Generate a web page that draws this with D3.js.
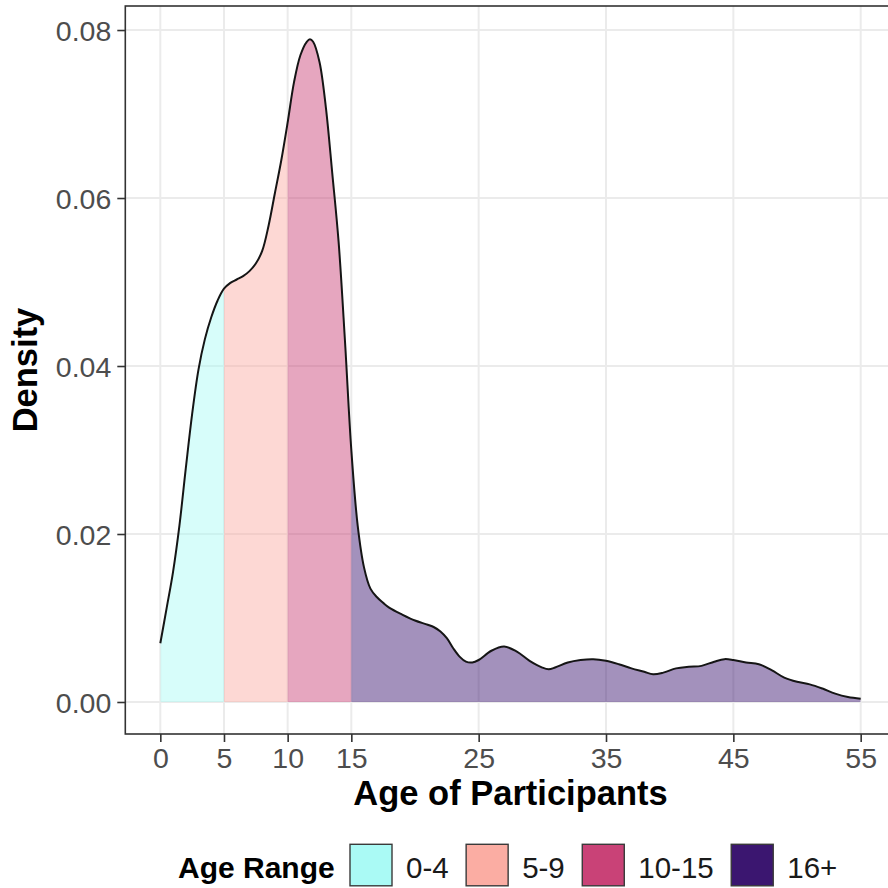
<!DOCTYPE html>
<html><head><meta charset="utf-8">
<script src="https://cdn.jsdelivr.net/npm/d3@7"></script>
<style>
body{margin:0;background:#fff;}
svg{display:block;}
text{font-family:"Liberation Sans",Arial,Helvetica,sans-serif;}
</style>
</head><body>
<svg id="chart" width="888" height="888"></svg>
<script>
// ---- data ----
const ages = [0,0.5,1,1.5,2,2.5,3,3.5,4,4.5,5,5.5,6,6.5,7,7.5,8,8.5,9,9.5,10,10.5,11,11.5,11.75,12,12.5,13,13.5,14,14.5,15,15.5,16,16.5,17,17.5,18,19,20,21,21.5,22,22.5,23,23.5,24,24.5,25,26,27,28,29,30,30.5,31,32,33,34,35,36,37,38,38.7,39.5,40.5,41.5,42.5,43.5,44.3,45,46,47,48,49,50,51,52,53,54,55];
const densities = [0.0070,0.0112,0.0155,0.0210,0.0278,0.0343,0.0396,0.0432,0.0458,0.0478,0.0492,0.0499,0.0503,0.0507,0.0513,0.0522,0.0537,0.0567,0.0606,0.0645,0.0690,0.0738,0.0770,0.0786,0.0789,0.0786,0.0762,0.0708,0.0630,0.0548,0.0430,0.0300,0.0210,0.0160,0.0135,0.0125,0.0118,0.0112,0.0104,0.0097,0.0092,0.0089,0.0084,0.0076,0.0064,0.0054,0.0048,0.0047,0.0050,0.0061,0.0066,0.0060,0.0049,0.0041,0.0039,0.0041,0.0047,0.0050,0.0051,0.0049,0.0045,0.0040,0.0036,0.0033,0.0035,0.0040,0.0042,0.0043,0.0048,0.0051,0.0050,0.0047,0.0045,0.0038,0.0029,0.0024,0.0021,0.0016,0.0010,0.0006,0.0004];
const groupLabels = ["0-4","5-9","10-15","16+"];
const groupLow = [0,5,10,15];
const groupHigh = [5,10,15,55];
const groupColors = ["#AAFAF5","#FBADA3","#C94277","#3B1670"];
const xTickValues = [0,5,10,15,25,35,45,55];
const yTickValues = [0,0.02,0.04,0.06,0.08];
const xTitle = "Age of Participants";
const yTitle = "Density";
const legendTitle = "Age Range";

// ---- layout ----
const svg = d3.select("#chart");
const panel = {left:125.3, right:895.7, top:6, bottom:734};
const x = d3.scaleLinear().domain([-2.75, 57.75]).range([panel.left, panel.right]);
const y = d3.scaleLinear().domain([-0.00381, 0.08286]).range([panel.bottom, panel.top]);
const pts = ages.map((a,i)=>({a, d:densities[i]}));

svg.append("rect").attr("x",0).attr("y",0).attr("width",888).attr("height",888).attr("fill","#fff");

// gridlines
const grid = svg.append("g");
grid.selectAll("line.gx").data(xTickValues).join("line")
  .attr("x1",d=>x(d)).attr("x2",d=>x(d)).attr("y1",panel.top).attr("y2",panel.bottom)
  .attr("stroke","#EBEBEB").attr("stroke-width",2);
grid.selectAll("line.gy").data(yTickValues).join("line")
  .attr("y1",d=>y(d)).attr("y2",d=>y(d)).attr("x1",panel.left).attr("x2",panel.right)
  .attr("stroke","#EBEBEB").attr("stroke-width",2);

// clip paths per group
const defs = svg.append("defs");
groupLabels.forEach((g,i)=>{
  defs.append("clipPath").attr("id","clip"+i).append("rect")
    .attr("x",x(groupLow[i])).attr("width",x(groupHigh[i])-x(groupLow[i]))
    .attr("y",panel.top).attr("height",panel.bottom-panel.top);
});

const curve = d3.curveCatmullRom.alpha(0.5);
const area = d3.area().x(p=>x(p.a)).y0(y(0)).y1(p=>y(p.d)).curve(curve);
const line = d3.line().x(p=>x(p.a)).y(p=>y(p.d)).curve(curve);

groupLabels.forEach((g,i)=>{
  svg.append("path").datum(pts).attr("d",area)
    .attr("fill",groupColors[i]).attr("fill-opacity",0.47)
    .attr("clip-path","url(#clip"+i+")");
});
svg.append("path").datum(pts).attr("d",line)
  .attr("fill","none").attr("stroke","#151515").attr("stroke-width",2);

// panel border
svg.append("rect").attr("x",panel.left).attr("y",panel.top)
  .attr("width",panel.right-panel.left).attr("height",panel.bottom-panel.top)
  .attr("fill","none").attr("stroke","#333333").attr("stroke-width",1.6);

// axes
const xAxis = d3.axisBottom(x).tickValues(xTickValues).tickSize(8).tickPadding(6).tickFormat(d3.format("d"));
const gx = svg.append("g").attr("transform",`translate(0,${panel.bottom})`).call(xAxis);
gx.select(".domain").remove();
gx.selectAll(".tick line").attr("stroke","#333333").attr("stroke-width",1.6);
gx.selectAll(".tick text").attr("fill","#4D4D4D").attr("font-size",28.5)
  .attr("font-family","Liberation Sans, Arial, sans-serif").attr("dy","0.71em");

const yAxis = d3.axisLeft(y).tickValues(yTickValues).tickSize(8).tickPadding(6).tickFormat(d3.format(".2f"));
const gy = svg.append("g").attr("transform",`translate(${panel.left},0)`).call(yAxis);
gy.select(".domain").remove();
gy.selectAll(".tick line").attr("stroke","#333333").attr("stroke-width",1.6);
gy.selectAll(".tick text").attr("fill","#4D4D4D").attr("font-size",28.5)
  .attr("font-family","Liberation Sans, Arial, sans-serif").attr("dy","0.36em");

// titles
svg.append("text").attr("x",(panel.left+panel.right)/2).attr("y",805)
  .attr("text-anchor","middle").attr("font-weight","bold").attr("font-size",34.5)
  .attr("fill","#000").text(xTitle);
svg.append("text").attr("transform",`translate(37,${(panel.top+panel.bottom)/2}) rotate(-90)`)
  .attr("text-anchor","middle").attr("font-weight","bold").attr("font-size",34.5)
  .attr("fill","#000").text(yTitle);

// legend
const leg = svg.append("g");
leg.append("text").attr("x",178).attr("y",877.5).attr("font-weight","bold")
  .attr("font-size",30).attr("fill","#000").text(legendTitle);
let cx = 350;
groupLabels.forEach((g,i)=>{
  leg.append("rect").attr("x",cx).attr("y",844.3).attr("width",42).attr("height",41.5)
    .attr("fill",groupColors[i]).attr("stroke","#3a3a3a").attr("stroke-width",1.4);
  const t = leg.append("text").attr("x",cx+42+14).attr("y",877.5)
    .attr("font-size",29.5).attr("fill","#1a1a1a").text(g);
  const w = t.node().getComputedTextLength();
  cx = cx + 42 + 14 + w + 17.5;
});
</script>
</body></html>
